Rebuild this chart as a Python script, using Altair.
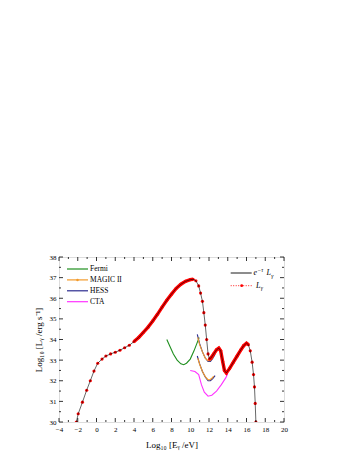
import altair as alt
import pandas as pd

# ---- main model curve (L_gamma and e^-tau L_gamma) ----
main_x = [-2.15, -1.95, -1.5, -1.05, -0.66, -0.27, 0.13, 0.59, 1.0, 1.5, 2.0, 2.5, 3.0, 3.5, 4.0,
          4.5, 5.0, 5.5, 6.0, 6.5, 7.0, 7.5, 8.0, 8.5, 9.0, 9.5, 10.0, 10.3, 10.6, 10.9, 11.1,
          11.3, 11.45, 11.6, 11.75, 11.9, 12.05, 12.2, 12.5, 12.8, 13.05, 13.25, 13.45, 13.65,
          13.85, 14.2, 14.6, 15.0, 15.4, 15.7, 16.0, 16.2, 16.4, 16.6, 16.75, 16.85, 16.93, 17.0]
main_y = [30.0, 30.4, 30.96, 31.54, 32.0, 32.47, 32.85, 33.05, 33.2, 33.3, 33.38, 33.48, 33.6, 33.72, 33.9,
          34.1, 34.35, 34.6, 34.9, 35.22, 35.57, 35.9, 36.2, 36.48, 36.68, 36.82, 36.9, 36.92, 36.85, 36.6, 36.25,
          35.85, 35.3, 34.7, 34.0, 33.3, 33.05, 33.1, 33.3, 33.5, 33.58, 33.45, 32.95, 32.5,
          32.38, 32.6, 32.9, 33.2, 33.5, 33.7, 33.82, 33.75, 33.45, 32.9, 32.3, 31.7, 30.9, 30.0]

# ---- instrument sensitivity curves ----
fermi_x = [7.5, 7.8, 8.2, 8.6, 9.0, 9.3, 9.6, 10.0, 10.4, 10.7, 10.95]
fermi_y = [34.0, 33.7, 33.3, 33.0, 32.82, 32.78, 32.85, 33.05, 33.45, 33.8, 34.1]

magic_x = [10.8, 11.0, 11.3, 11.6, 11.9, 12.1, 12.3, 12.5]
magic_up = [34.1, 33.75, 33.4, 33.1, 32.97, 32.97, 33.05, 33.2]
magic_lo = [33.1, 32.8, 32.45, 32.2, 32.05, 32.05, 32.12, 32.22]

hess_x = [10.75, 11.0, 11.3, 11.6, 11.9, 12.15, 12.4, 12.65]
hess_up = [34.25, 33.8, 33.4, 33.1, 32.93, 32.93, 33.08, 33.28]
hess_lo = [33.2, 32.82, 32.45, 32.18, 32.0, 32.0, 32.1, 32.25]

cta_x = [10.0, 10.5, 10.9, 11.2, 11.5, 11.9, 12.3, 12.8, 13.3, 13.8, 14.0]
cta_y = [32.5, 32.45, 32.3, 31.8, 31.45, 31.25, 31.3, 31.5, 31.8, 32.15, 32.35]

x_major = [-4, -2, 0, 2, 4, 6, 8, 10, 12, 14, 16, 18, 20]
x_minor = [-3, -1, 1, 3, 5, 7, 9, 11, 13, 15, 17, 19]
y_major = [30, 31, 32, 33, 34, 35, 36, 37, 38]
y_minor = [30.5, 31.5, 32.5, 33.5, 34.5, 35.5, 36.5, 37.5]

legend_names = ["Fermi", "MAGIC II", "HESS", "CTA"]
legend_colors = ["#1f8f1f", "#f39a2a", "#2b2b8f", "#ff33ff"]

W, H = 225, 165
SERIF = "Liberation Serif"

main_df = pd.DataFrame({"x": main_x, "y": main_y})
det_rows = []
for xs_, ys_, name, part in [(fermi_x, fermi_y, "Fermi", "a"),
                             (hess_x, hess_up, "HESS", "a"), (hess_x, hess_lo, "HESS", "b"),
                             (magic_x, magic_up, "MAGIC II", "a"), (magic_x, magic_lo, "MAGIC II", "b"),
                             (cta_x, cta_y, "CTA", "a")]:
    for i, (a, b) in enumerate(zip(xs_, ys_)):
        det_rows.append({"x": a, "y": b, "name": name, "part": name + part, "i": i})
det_df = pd.DataFrame(det_rows)

xs = alt.Scale(domain=[-4, 20], nice=False, zero=False)
ys = alt.Scale(domain=[30, 38], nice=False, zero=False)

x_axis = alt.Axis(values=x_major, ticks=False, domain=False, grid=False, labelFont=SERIF,
                  labelFontSize=7, labelPadding=3, labelColor="black", labelOverlap=False,
                  labelFlush=False,
                  title="Log₁₀ [Eᵧ /eV]", titleFont=SERIF, titleFontSize=9,
                  titleFontWeight="normal", titlePadding=8, titleColor="black")
y_axis = alt.Axis(values=y_major, ticks=False, domain=False, grid=False, labelFont=SERIF,
                  labelFontSize=7, labelPadding=3, labelColor="black", labelOverlap=False,
                  labelFlush=False,
                  title="Log₁₀ [Lᵧ /erg s⁻¹]", titleFont=SERIF, titleFontSize=9,
                  titleFontWeight="normal", titlePadding=6, titleColor="black")
X = alt.X("x:Q", scale=xs, axis=x_axis)
Y = alt.Y("y:Q", scale=ys, axis=y_axis)

base_main = alt.Chart(main_df)
red_dense1 = base_main.mark_line(color="#ff0000", strokeWidth=3.4, clip=True).encode(
    x=X, y=Y, order="x:Q").transform_filter("datum.x >= 4.0 && datum.x <= 10.45")
red_dense2 = base_main.mark_line(color="#ff0000", strokeWidth=3.4, clip=True).encode(
    x=X, y=Y, order="x:Q").transform_filter("datum.x >= 12.0 && datum.x <= 16.2")
red_pts = base_main.mark_circle(color="#ff0000", size=10, opacity=1, clip=True).encode(x=X, y=Y)
black_line = base_main.mark_line(color="black", strokeWidth=0.6, clip=True).encode(x=X, y=Y, order="x:Q")

det = alt.Chart(det_df).mark_line(strokeWidth=1.1, clip=True).encode(
    x=X, y=Y, detail="part:N", order="i:Q",
    color=alt.Color("name:N", scale=alt.Scale(domain=legend_names, range=legend_colors), legend=None))

# inward ticks drawn through the scales
def ticks(vals, axis, length):
    df = pd.DataFrame({"v": vals})
    c = alt.Chart(df).mark_rule(color="black", strokeWidth=0.8)
    if axis == "x":
        xe = alt.X("v:Q", scale=xs, axis=x_axis)
        return [c.encode(x=xe, y=alt.value(H), y2=alt.value(H - length)),
                c.encode(x=xe, y=alt.value(0), y2=alt.value(length))]
    ye = alt.Y("v:Q", scale=ys, axis=y_axis)
    return [c.encode(y=ye, x=alt.value(0), x2=alt.value(length)),
            c.encode(y=ye, x=alt.value(W), x2=alt.value(W - length))]

tick_layers = ticks(x_major, "x", 4) + ticks(x_minor, "x", 2) + ticks(y_major, "y", 4) + ticks(y_minor, "y", 2)

one = pd.DataFrame({"a": [0]})
r = alt.Chart(one)

# left legend
leg_layers = []
for k, (nm, col) in enumerate(zip(legend_names, legend_colors)):
    py = 12 + k * 10.9
    leg_layers.append(r.mark_rule(color=col, strokeWidth=1.2).encode(
        x=alt.value(8), x2=alt.value(29), y=alt.value(py)))
    if nm == "MAGIC II":
        leg_layers.append(r.mark_circle(color=col, size=6, opacity=1).encode(
            x=alt.value(18.5), y=alt.value(py)))
    leg_layers.append(r.mark_text(align="left", baseline="middle", font=SERIF, fontSize=7.5,
                                  color="black", text=nm).encode(x=alt.value(31), y=alt.value(py)))

# right legend
rl1 = r.mark_rule(color="black", strokeWidth=0.9).encode(x=alt.value(171.7), x2=alt.value(192.7), y=alt.value(16))
rt1a = r.mark_text(align="left", baseline="middle", font=SERIF, fontSize=8, fontStyle="italic", text="e").encode(
    x=alt.value(194.5), y=alt.value(16))
rt1b = r.mark_text(align="left", baseline="middle", font=SERIF, fontSize=5.5, fontStyle="italic", text="−τ").encode(
    x=alt.value(198.5), y=alt.value(12.5))
rt1c = r.mark_text(align="left", baseline="middle", font=SERIF, fontSize=8, fontStyle="italic", text="L").encode(
    x=alt.value(207.5), y=alt.value(16))
rt1d = r.mark_text(align="left", baseline="middle", font=SERIF, fontSize=5.5, fontStyle="italic", text="γ").encode(
    x=alt.value(212.3), y=alt.value(18.5))
rl2 = r.mark_rule(color="#ff0000", strokeWidth=0.9, strokeDash=[1, 1.5]).encode(
    x=alt.value(171.7), x2=alt.value(194), y=alt.value(28.7))
rp2 = r.mark_circle(color="#ff0000", size=8, opacity=1).encode(x=alt.value(182.7), y=alt.value(28.7))
rt2a = r.mark_text(align="left", baseline="middle", font=SERIF, fontSize=8, fontStyle="italic", text="L").encode(
    x=alt.value(197), y=alt.value(28.7))
rt2b = r.mark_text(align="left", baseline="middle", font=SERIF, fontSize=5.5, fontStyle="italic", text="γ").encode(
    x=alt.value(201.8), y=alt.value(31.2))

chart = alt.layer(
    det, red_dense1, red_dense2, red_pts, black_line,
    *tick_layers,
    *leg_layers,
    rl1, rt1a, rt1b, rt1c, rt1d, rl2, rp2, rt2a, rt2b,
).properties(
    width=W, height=H,
    autosize=alt.AutoSizeParams(type="none"),
    padding={"left": 51, "top": 249, "right": 64, "bottom": 31},
).configure_view(stroke="black", strokeWidth=1).configure(background="white")

chart.save("out.html", embed_options={"renderer": "svg", "actions": False})
